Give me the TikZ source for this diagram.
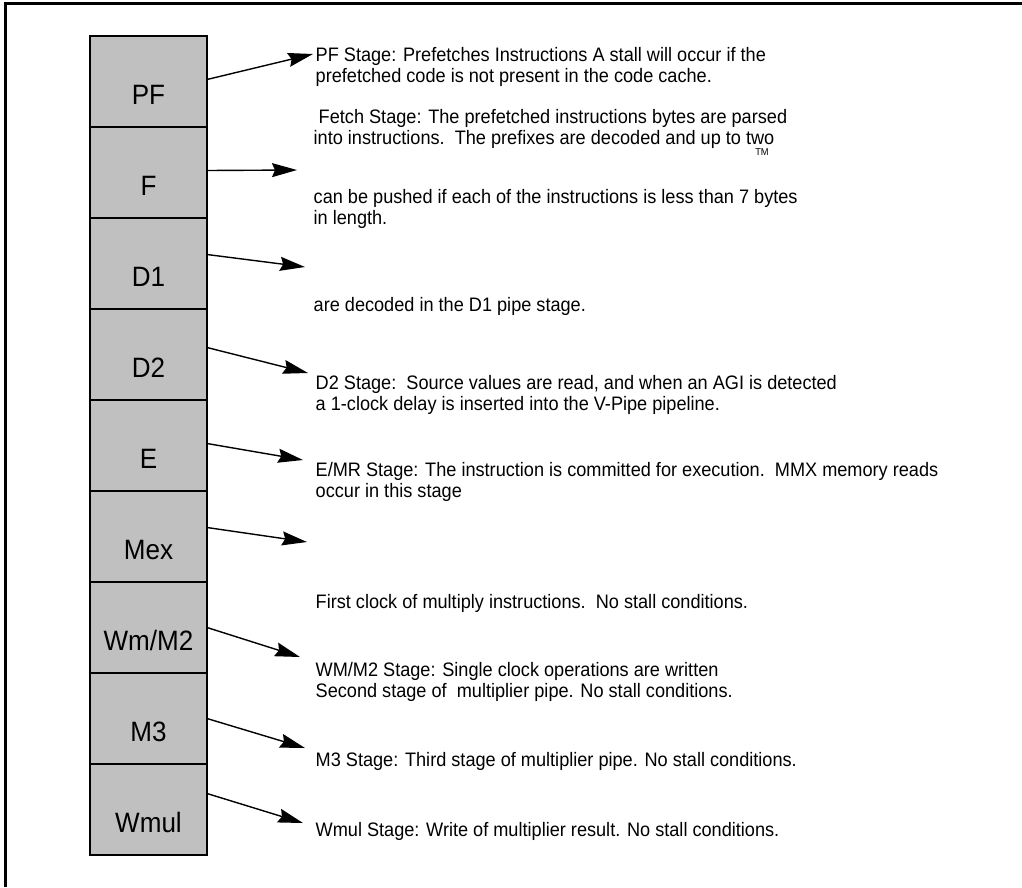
\documentclass[tikz,border=0pt]{standalone}
\usepackage{fontspec}
\setmainfont[FakeStretch=0.93]{Liberation Sans}
\usetikzlibrary{arrows.meta,positioning}

\definecolor{stagegray}{HTML}{C0C0C0}

\begin{document}
\begin{tikzpicture}[x=1pt,y=-1pt,->,>={Stealth[length=25pt,width=14pt,inset=3pt]},
		line width=1.4pt,node distance=0pt,
		stage node/.style={draw,fill=stagegray,minimum width=117pt,minimum height=91pt,
			inner sep=0pt,outer sep=0pt,font=\fontsize{28}{32}\selectfont,text height=46pt,text depth=0pt},
		note node/.style={anchor=north west,inner sep=0pt,align=left,
			font=\fontsize{19.5}{21}\selectfont}]
	\useasboundingbox (0,0) rectangle (1022,887);
	\draw[-,line width=3pt] (5,887) -- (5,3) -- (1022,3);
	% pipe stages
	\node[stage node,anchor=north west] (pf) at (90,36) {PF};
	\node[stage node] (f) [below=of pf] {F};
	\node[stage node] (d1) [below=of f] {D1};
	\node[stage node] (d2) [below=of d1] {D2};
	\node[stage node] (e) [below=of d2] {E};
	\node[stage node] (mex) [below=of e] {Mex};
	\node[stage node] (wm) [below=of mex] {Wm/M2};
	\node[stage node] (mthree) [below=of wm] {M3};
	\node[stage node] (wmul) [below=of mthree] {Wmul};
	% notes
	\node[note node] (pftext) at (315,47) {PF Stage: Prefetches Instructions A stall will occur if the\\
		prefetched code is not present in the code cache.};
	\node[note node] (ftexta) at (313,109) {\ Fetch Stage: The prefetched instructions bytes are parsed\\
		into instructions.\ \ The prefixes are decoded and up to two};
	\node[inner sep=0pt,font=\fontsize{10}{12}\selectfont] (tm) at (762,152) {TM};
	\node[note node] (ftextb) at (313,189) {can be pushed if each of the instructions is less than 7 bytes\\
		in length.};
	\node[note node] (d1text) at (313,297) {are decoded in the D1 pipe stage.};
	\node[note node] (d2text) at (315,375) {D2 Stage:\ \ Source values are read, and when an AGI is detected\\
		a 1-clock delay is inserted into the V-Pipe pipeline.};
	\node[note node] (etext) at (315,462) {E/MR Stage: The instruction is committed for execution.\ \ MMX memory reads\\
		occur in this stage};
	\node[note node] (mextext) at (315,594) {First clock of multiply instructions.\ \ No stall conditions.};
	\node[note node] (wmtext) at (315,662) {WM/M2 Stage: Single clock operations are written\\
		Second stage of\ \ multiplier pipe. No stall conditions.};
	\node[note node] (mthreetext) at (315,752) {M3 Stage: Third stage of multiplier pipe. No stall conditions.};
	\node[note node] (wmultext) at (315,822) {Wmul Stage: Write of multiplier result. No stall conditions.};
	% arrow tips
	\coordinate (pftip) at (313,54);
	\coordinate (ftip) at (297,170);
	\coordinate (d1tip) at (305,267);
	\coordinate (d2tip) at (308,373);
	\coordinate (etip) at (303,460);
	\coordinate (mextip) at (307,542);
	\coordinate (wmtip) at (300,657);
	\coordinate (mthreetip) at (305,748);
	\coordinate (wmultip) at (303,823);
	\draw ([yshift=2pt]pf.east) -- (pftip);
	\draw ([yshift=2pt]f.east) -- (ftip);
	\draw ([yshift=9pt]d1.east) -- (d1tip);
	\draw ([yshift=7pt]d2.east) -- (d2tip);
	\draw ([yshift=2pt]e.east) -- (etip);
	\draw ([yshift=9pt]mex.east) -- (mextip);
	\draw (wm.east) -- (wmtip);
	\draw (mthree.east) -- (mthreetip);
	\draw ([yshift=16pt]wmul.east) -- (wmultip);
\end{tikzpicture}
\end{document}
